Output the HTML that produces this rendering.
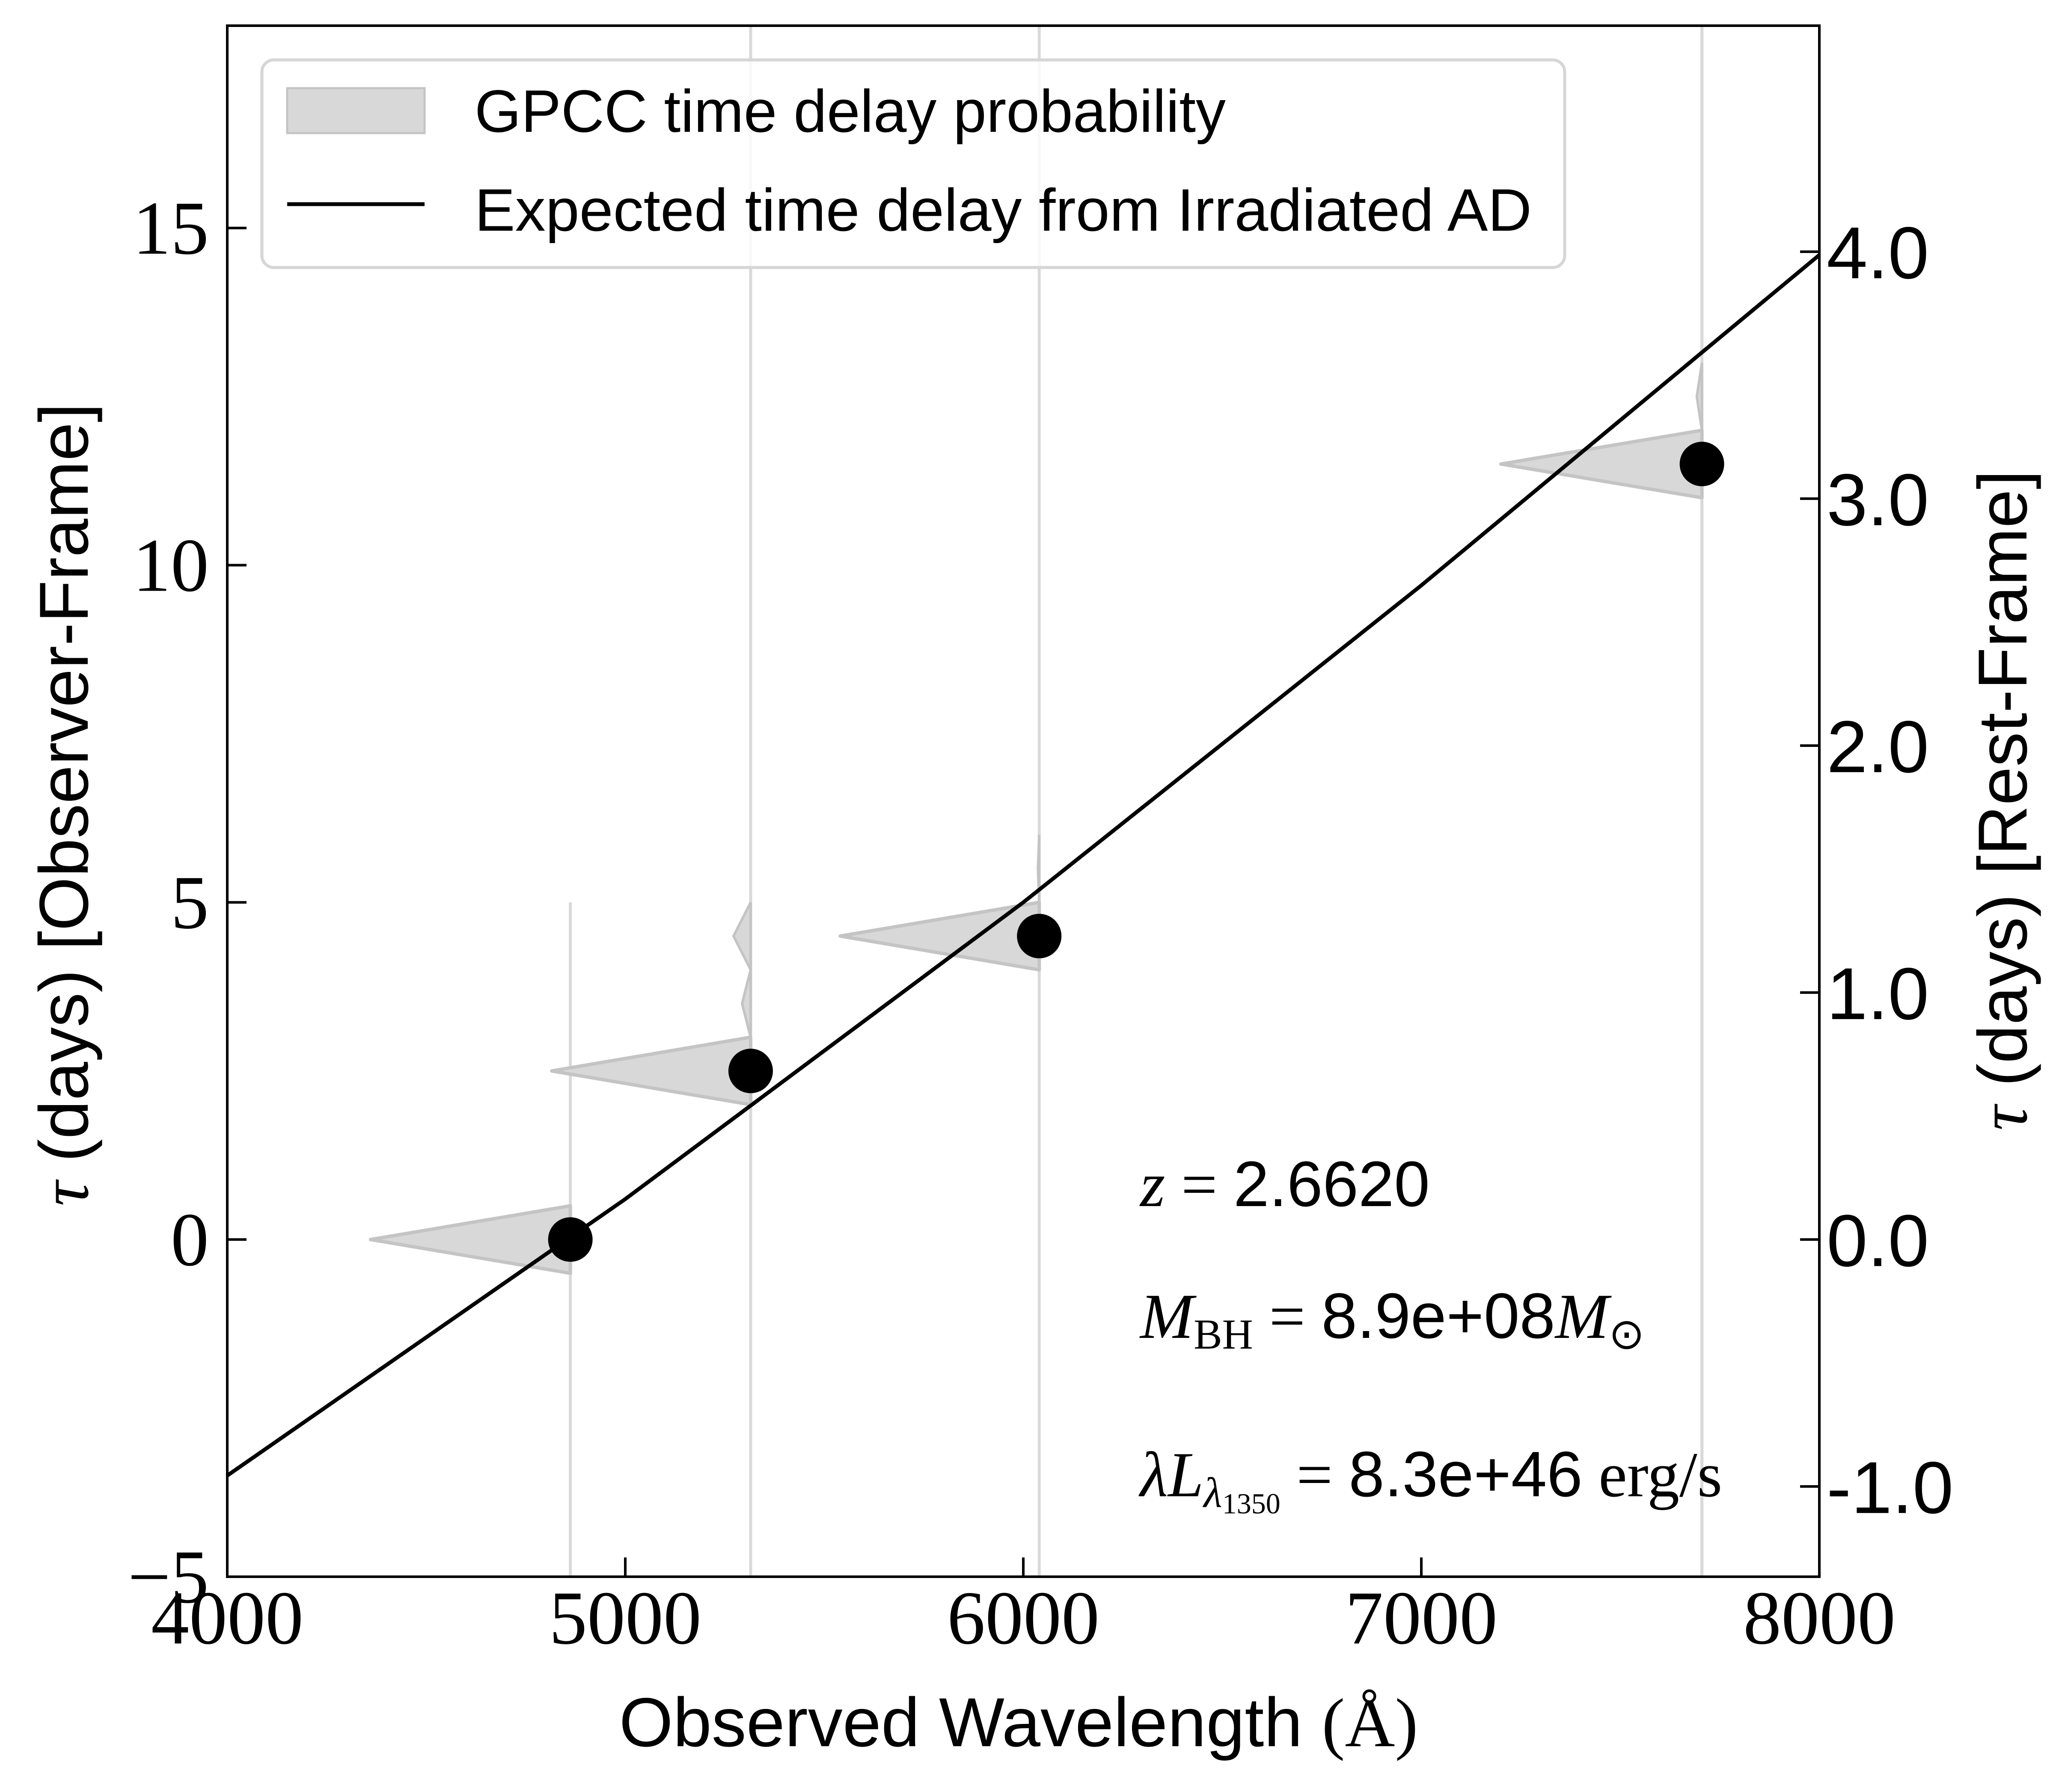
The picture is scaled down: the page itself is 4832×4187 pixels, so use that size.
<!DOCTYPE html>
<html><head><meta charset="utf-8"><style>
html,body{margin:0;padding:0;background:#fff;}
svg{display:block;}
.serif{font-family:"Liberation Serif",serif;}
.sans{font-family:"Liberation Sans",sans-serif;}
</style></head><body>
<svg id="chart" width="4832" height="4187" viewBox="0 0 4832 4187" xmlns="http://www.w3.org/2000/svg">
<g id="lines"></g>
<g id="violins"></g>
<g id="model"></g>
<g id="points"></g>
<g id="axes"></g>
<g>
  <rect x="612" y="140" width="3044" height="485" rx="28" fill="#fff" fill-opacity="0.8" stroke="#d6d6d6" stroke-width="7"/>
  <rect x="671" y="206" width="321" height="105" fill="#d8d8d8" stroke="#c4c4c4" stroke-width="5"/>
  <text x="1109" y="308" class="sans" font-size="140" textLength="1755" lengthAdjust="spacingAndGlyphs">GPCC time delay probability</text>
  <line x1="671" y1="477" x2="992" y2="477" stroke="#000" stroke-width="9"/>
  <text x="1109" y="539" class="sans" font-size="140" textLength="2470" lengthAdjust="spacingAndGlyphs">Expected time delay from Irradiated AD</text>
</g>
<g>
  <text x="2664" y="2818" font-size="150"><tspan class="serif" font-style="italic">z</tspan><tspan class="serif"> = </tspan><tspan class="sans">2.6620</tspan></text>
  <text x="2664" y="3126" font-size="150"><tspan class="serif" font-style="italic">M</tspan><tspan class="serif" font-size="100" dy="25">BH</tspan><tspan class="serif" dy="-25"> = </tspan><tspan class="sans">8.9e+08</tspan><tspan class="serif" font-style="italic">M</tspan><tspan class="serif" font-size="100" dy="25">⊙</tspan></text>
  <text x="2664" y="3496" font-size="150"><tspan class="serif" font-style="italic">λL</tspan><tspan class="serif" font-style="italic" font-size="100" dy="25">λ</tspan><tspan class="serif" font-size="68" dy="15">1350</tspan><tspan class="serif" dy="-40"> = </tspan><tspan class="sans">8.3e+46</tspan><tspan class="serif"> erg/s</tspan></text>
</g>
<text x="2380" y="4080" text-anchor="middle" font-size="162"><tspan class="sans">Observed Wavelength </tspan><tspan class="serif">(Å)</tspan></text>
<text transform="translate(205,1880) rotate(-90)" text-anchor="middle" font-size="162"><tspan class="serif" font-style="italic">τ</tspan><tspan class="sans"> (days) [Observer-Frame]</tspan></text>
<text transform="translate(4735,1870) rotate(-90)" text-anchor="middle" font-size="162"><tspan class="serif" font-style="italic">τ</tspan><tspan class="sans"> (days) [Rest-Frame]</tspan></text>
</svg>
<script>
const NS="http://www.w3.org/2000/svg";
const wavelengths=[4862,5315,6040,7705];
const delays=[0,2.5,4.5,11.5];
const violinTop=[0.5,3.0,5.0,12.0];
const violinBottom=[-0.5,2.0,4.0,11.0];
const violinTip=[4360,4815,5540,7200];
const refLineTop=[5,18,18,18];
const bumpBand=[1,1,3,3];
const bumpTau=[[3.0,3.5,4.0,4.5,5.0],[3.0,3.5,4.0,4.5,5.0],[5.0,5.5,6.0],[12.0,12.5,13.0]];
const bumpWidth=[[0,20,0,40,0],[0,20,0,40,0],[0,3,0],[0,12,0]];
const modelLambda=[4000,5000,6000,7000,8000];
const modelTau=[-3.5,0.6,5.0,9.7,14.6];
const xTicks=[4000,5000,6000,7000,8000];
const yTicks=[-5,0,5,10,15];
const yTickLabels=["−5","0","5","10","15"];
const restTicks=[-1,0,1,2,3,4];
const restTickLabels=["-1.0","0.0","1.0","2.0","3.0","4.0"];
const redshift=2.662;

const X0=531,X1=4251,Y0=3684,Y1=60;
const xs=v=>X0+(v-4000)/(8000-4000)*(X1-X0);
const ys=v=>Y0-(v+5)/(18+5)*(Y0-Y1);
function mk(tag,attrs,parent){const e=document.createElementNS(NS,tag);for(const k in attrs)e.setAttribute(k,attrs[k]);parent.appendChild(e);return e;}
const gL=document.getElementById('lines'),gV=document.getElementById('violins'),gM=document.getElementById('model'),gP=document.getElementById('points'),gA=document.getElementById('axes');

wavelengths.forEach((w,i)=>{
  const l=mk('line',{x1:xs(w),x2:xs(w),y1:ys(refLineTop[i]),y2:Y0,stroke:'#d9d9d9','stroke-width':7},gL);
  
  
  const p=mk('polygon',{points:`${xs(w)},${ys(violinTop[i])} ${xs(violinTip[i])},${ys(delays[i])} ${xs(w)},${ys(violinBottom[i])}`,fill:'#d8d8d8',stroke:'#c4c4c4','stroke-width':8,'stroke-linejoin':'round'},gV);
  
  
  const c=mk('circle',{cx:xs(w),cy:ys(delays[i]),r:52,fill:'#000'},gP);
  
  
});
[1,2,3].forEach(k=>{
  const bi=k-1;
  const w=wavelengths[k];
  const pts=bumpTau[k].map((t,j)=>`${xs(w)-bumpWidth[k][j]},${ys(t)}`).join(' ');
  const b=mk('polygon',{points:pts,fill:'#d8d8d8',stroke:'#c4c4c4','stroke-width':6},gV);
  
  
});
const pm=mk('polyline',{points:modelLambda.map((l,i)=>xs(l)+','+ys(modelTau[i])).join(' '),fill:'none',stroke:'#000','stroke-width':9},gM);



const fr=mk('rect',{x:X0,y:Y1,width:X1-X0,height:Y0-Y1,fill:'none',stroke:'#000','stroke-width':6},gA);


xTicks.forEach(t=>{
  const l=mk('line',{x1:xs(t),x2:xs(t),y1:Y0,y2:Y0-45,stroke:'#000','stroke-width':6},gA);
  
  
  const tx=mk('text',{x:xs(t),y:3840,'text-anchor':'middle','font-size':178,class:'serif'},gA);
  tx.textContent=t;
  
  
});
yTicks.forEach((t,i)=>{
  const l=mk('line',{x1:X0,x2:X0+45,y1:ys(t),y2:ys(t),stroke:'#000','stroke-width':6},gA);
  
  
  const tx=mk('text',{x:488,y:ys(t)+60,'text-anchor':'end','font-size':178,class:'serif'},gA);
  tx.textContent=yTickLabels[i];
  
  
});
restTicks.forEach((t,i)=>{
  const y=ys(t*(1+redshift));
  const l=mk('line',{x1:X1,x2:X1-45,y1:y,y2:y,stroke:'#000','stroke-width':6},gA);
  
  
  const tx=mk('text',{x:4268,y:y+62,'font-size':172,class:'sans'},gA);
  tx.textContent=restTickLabels[i];
  
  
});
</script>
</body></html>
